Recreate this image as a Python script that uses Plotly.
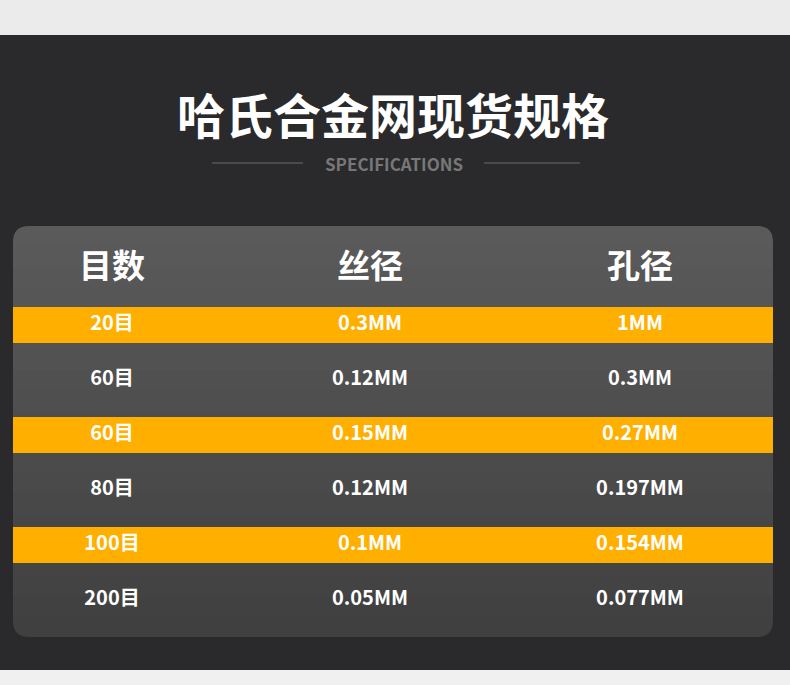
import plotly.graph_objects as go

headers = ["目数", "丝径", "孔径"]
mesh = ["20目", "60目", "60目", "80目", "100目", "200目"]
wire = ["0.3MM", "0.12MM", "0.15MM", "0.12MM", "0.1MM", "0.05MM"]
hole = ["1MM", "0.3MM", "0.27MM", "0.197MM", "0.154MM", "0.077MM"]
highlight = [True, False, True, False, True, False]

W, H = 790, 685
col_x = [112, 370, 640]
row_y0, row_step = 325, 55
FONT = "Noto Sans CJK SC"

fig = go.Figure()
shapes = []
shapes.append(dict(type="rect", x0=0, x1=W, y0=0, y1=35, fillcolor="#ebebeb", line_width=0, layer="below"))
shapes.append(dict(type="rect", x0=0, x1=W, y0=35, y1=670, fillcolor="#2a2a2c", line_width=0, layer="below"))
shapes.append(dict(type="rect", x0=0, x1=W, y0=670, y1=H, fillcolor="#f0f0f0", line_width=0, layer="below"))
x0, x1, y0, y1, r = 13, 773, 226, 637, 16
n = 20
for i in range(n):
    ya = y0 + (y1 - y0) * i / n
    yb = y0 + (y1 - y0) * (i + 1) / n
    c = int(round(0x5a - (0x5a - 0x40) * i / (n - 1)))
    col = f"rgb({c},{c},{c+1})"
    if i == 0:
        path = f"M{x0},{yb+1} L{x0},{ya+r} Q{x0},{ya} {x0+r},{ya} L{x1-r},{ya} Q{x1},{ya} {x1},{ya+r} L{x1},{yb+1} Z"
    elif i == n - 1:
        path = f"M{x0},{ya} L{x1},{ya} L{x1},{yb-r} Q{x1},{yb} {x1-r},{yb} L{x0+r},{yb} Q{x0},{yb} {x0},{yb-r} Z"
    else:
        path = f"M{x0},{ya} L{x1},{ya} L{x1},{yb+1} L{x0},{yb+1} Z"
    shapes.append(dict(type="path", path=path, fillcolor=col, line_width=0, layer="below"))
for i, h in enumerate(highlight):
    if h:
        yc = row_y0 + i * row_step
        shapes.append(dict(type="rect", x0=x0, x1=x1, y0=yc - 18, y1=yc + 18, fillcolor="#ffaf00", line_width=0, layer="below"))
shapes.append(dict(type="line", x0=212, x1=303, y0=163, y1=163, line=dict(color="#6a6a6a", width=1)))
shapes.append(dict(type="line", x0=484, x1=580, y0=163, y1=163, line=dict(color="#6a6a6a", width=1)))

fig.add_trace(go.Scatter(x=col_x, y=[270] * 3, text=headers, mode="text",
                         textfont=dict(family=FONT, size=33, color="white", weight="bold"), hoverinfo="skip"))
for ci, col in enumerate([mesh, wire, hole]):
    fig.add_trace(go.Scatter(x=[col_x[ci]] * len(col), y=[row_y0 + i * row_step for i in range(len(col))],
                             text=col, mode="text",
                             textfont=dict(family=FONT, size=20, color="white", weight="bold"), hoverinfo="skip"))

annotations = [
    dict(x=393, y=113, text="哈氏合金网现货规格", showarrow=False,
         font=dict(family=FONT, size=48, color="white", weight="bold")),
    dict(x=394, y=163, text="SPECIFICATIONS", showarrow=False,
         font=dict(family=FONT, size=17, color="#777777", weight="bold")),
]

fig.update_layout(width=W, height=H, margin=dict(l=0, r=0, t=0, b=0),
                  paper_bgcolor="#2a2a2c", plot_bgcolor="#2a2a2c", showlegend=False,
                  shapes=shapes, annotations=annotations,
                  xaxis=dict(range=[0, W], visible=False, fixedrange=True),
                  yaxis=dict(range=[H, 0], visible=False, fixedrange=True))
fig.write_html("out.html", config={"displayModeBar": False})
with open("out.html", encoding="utf-8") as f:
    html = f.read()
html = html.replace("<head>", "<head><style>html,body{margin:0;padding:0;overflow:hidden}</style>", 1)
with open("out.html", "w", encoding="utf-8") as f:
    f.write(html)
